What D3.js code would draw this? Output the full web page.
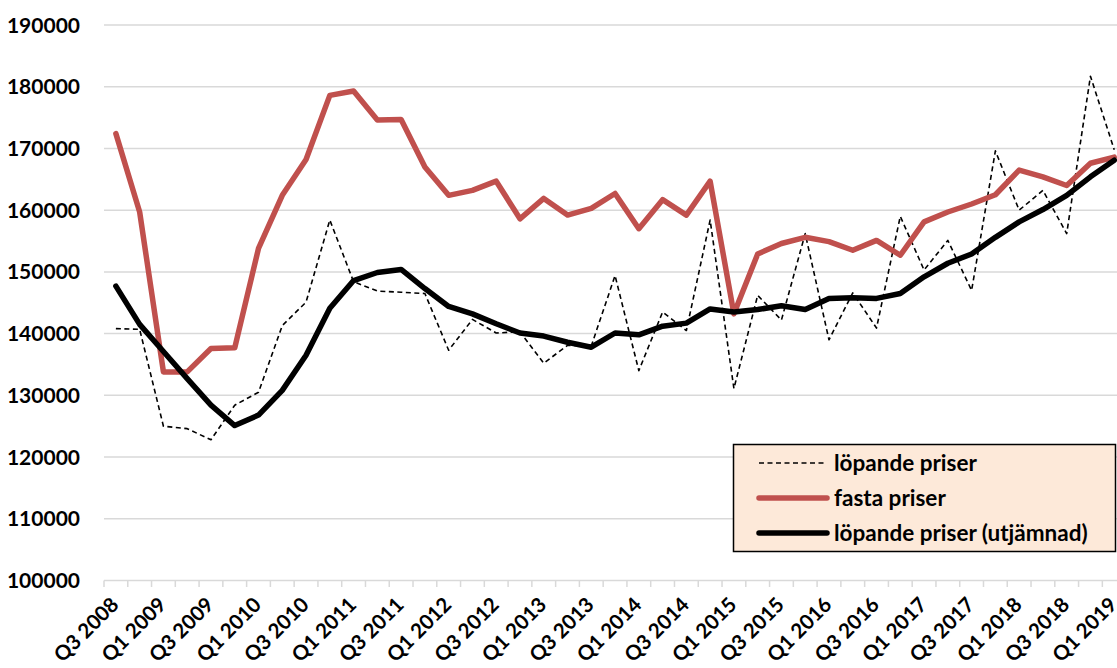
<!DOCTYPE html>
<html>
<head>
  <meta charset="utf-8">
  <title>Löpande och fasta priser</title>
  <style>
    html, body { margin: 0; padding: 0; background: #fff; overflow: hidden; }
    svg text { font-family: Lato, "Open Sans", sans-serif; font-weight: bold; fill: #000; }
    .grid line { stroke: #d9d9d9; stroke-width: 1.5px; }
    .line { fill: none; stroke-linejoin: round; stroke-linecap: round; }
  </style>
</head>
<body>
  <div id="chart"></div>
  <script src="https://d3js.org/d3.v7.min.js"></script>
  <script>
    // Quarters Q3 2008 .. Q1 2019
    const quarters = [];
    for (let y = 2008; y <= 2019; y++) {
      for (let q = 1; q <= 4; q++) {
        if ((y === 2008 && q < 3) || (y === 2019 && q > 1)) continue;
        quarters.push("Q" + q + " " + y);
      }
    }

    // löpande priser (dashed)
    const lopande = [140800, 140700, 125000, 124600, 122800, 128400, 130500, 141300, 145100, 158400,
                     148400, 146900, 146700, 146500, 137300, 142300, 140100, 140300, 135200, 138100,
                     138000, 149400, 134000, 143500, 140500, 158400, 131100, 146200, 142200, 156200,
                     139000, 146600, 140900, 159000, 150300, 155100, 147000, 169600, 160000, 163200,
                     156200, 181700, 169800];

    // fasta priser (red)
    const fasta = [172400, 159700, 133800, 133800, 137600, 137700, 153800, 162400, 168200, 178600,
                   179300, 174600, 174700, 167000, 162400, 163200, 164700, 158600, 161900, 159200,
                   160300, 162700, 157000, 161700, 159200, 164700, 143200, 152900, 154600, 155600,
                   154900, 153500, 155100, 152700, 158100, 159700, 161000, 162500, 166500, 165400,
                   164000, 167600, 168600];

    // löpande priser (utjämnad) (thick black)
    const utjamnad = [147700, 141500, 137100, 132700, 128400, 125100, 126800, 130800, 136500, 144100,
                      148600, 149900, 150400, 147300, 144400, 143200, 141600, 140100, 139600, 138600,
                      137800, 140100, 139800, 141200, 141700, 144000, 143500, 143900, 144500, 143900,
                      145700, 145800, 145700, 146500, 149200, 151400, 152900, 155600, 158100, 160100,
                      162400, 165400, 168100];

    const yTicks = d3.range(100000, 190001, 10000);

    const width = 1117, height = 668;
    const x = d3.scaleBand().domain(quarters).range([104, 104 + 43 * 23.77]).padding(0);
    const y = d3.scaleLinear().domain([100000, 190000]).range([580.5, 25]);

    const svg = d3.select("#chart").append("svg")
      .attr("width", width)
      .attr("height", height);

    // gridlines
    svg.append("g").attr("class", "grid")
      .selectAll("line").data(yTicks).join("line")
      .attr("x1", 104).attr("x2", width)
      .attr("y1", d => y(d)).attr("y2", d => y(d));

    // y labels
    svg.append("g").selectAll("text").data(yTicks).join("text")
      .attr("x", 80).attr("y", d => y(d))
      .attr("dy", "0.36em")
      .attr("text-anchor", "end")
      .style("font-size", "21px")
      .text(d => d);

    // category ticks under the axis
    const tickPos = quarters.map(q => x(q)).concat([x(quarters[quarters.length - 1]) + x.bandwidth()]);
    svg.append("g").selectAll("line").data(tickPos).join("line")
      .attr("x1", d => d).attr("x2", d => d)
      .attr("y1", 580.5).attr("y2", 587)
      .attr("stroke", "#d9d9d9").attr("stroke-width", 1.5);

    // x labels, every second quarter
    const cx = q => x(q) + x.bandwidth() / 2;
    svg.append("g").selectAll("text").data(quarters.filter((q, i) => i % 2 === 0)).join("text")
      .attr("text-anchor", "end")
      .attr("transform", q => "translate(" + (cx(q) + 4) + ",606) rotate(-45)")
      .style("font-size", "20.5px")
      .text(q => q);

    const line = d3.line().x((d, i) => cx(quarters[i])).y(d => y(d));

    svg.append("path").attr("class", "line")
      .attr("d", line(lopande))
      .attr("stroke", "#000").attr("stroke-width", 1.6)
      .attr("stroke-dasharray", "5,3.5")
      .style("stroke-linecap", "butt");

    svg.append("path").attr("class", "line")
      .attr("d", line(fasta))
      .attr("stroke", "#c0504d").attr("stroke-width", 5.5);

    svg.append("path").attr("class", "line")
      .attr("d", line(utjamnad))
      .attr("stroke", "#000").attr("stroke-width", 5.5);

    // legend
    const legend = svg.append("g");
    legend.append("rect")
      .attr("x", 733.5).attr("y", 444.5)
      .attr("width", 382).attr("height", 107)
      .attr("fill", "#fde9d9").attr("stroke", "#000").attr("stroke-width", 1.5);

    const legendItems = [
      {label: "löpande priser", color: "#000", w: 1.6, dash: "5,3.5", cap: "butt"},
      {label: "fasta priser", color: "#c0504d", w: 5.5, dash: null, cap: "round"},
      {label: "löpande priser (utjämnad)", color: "#000", w: 5.5, dash: null, cap: "round"}
    ];
    legendItems.forEach((d, i) => {
      const ly = 463 + i * 35;
      legend.append("line")
        .attr("x1", 759).attr("x2", 827).attr("y1", ly).attr("y2", ly)
        .attr("stroke", d.color).attr("stroke-width", d.w)
        .attr("stroke-dasharray", d.dash)
        .attr("stroke-linecap", d.cap);
      legend.append("text")
        .attr("x", 834).attr("y", ly).attr("dy", "0.36em")
        .style("font-size", "22.5px")
        .text(d.label);
    });
  </script>
</body>
</html>
